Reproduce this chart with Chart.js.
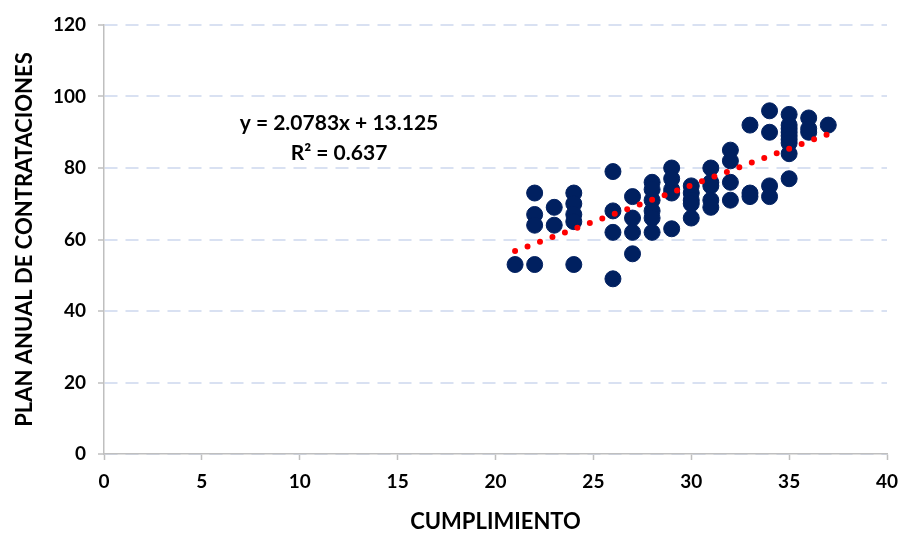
<!DOCTYPE html>
<html>
<head>
<meta charset="utf-8">
<script src="https://cdn.jsdelivr.net/npm/chart.js@4"></script>
<style>
  html, body { margin: 0; padding: 0; background: #fff; }
  #wrap { width: 904px; height: 535px; }
</style>
</head>
<body>
<div id="wrap"><canvas id="chart"></canvas></div>
<script>
// cumplimiento (x) and plan anual (y)
const cumplimiento = [21, 22, 22, 22, 22, 23, 23, 24, 24, 24, 24, 24,
   26, 26, 26, 26, 27, 27, 27, 27, 28, 28, 28, 28, 28, 28,
   29, 29, 29, 29, 29, 30, 30, 30, 30, 30, 31, 31, 31, 31, 31,
   32, 32, 32, 32, 33, 33, 33, 34, 34, 34, 34,
   35, 35, 35, 35, 35, 35, 35, 35, 35, 36, 36, 36, 37];
const planAnual = [53, 73, 67, 64, 53, 69, 64, 73, 70, 67, 65, 53,
   79, 68, 62, 49, 72, 66, 62, 56, 76, 74, 71, 68, 66, 62,
   80, 77, 74, 73, 63, 75, 73, 71, 70, 66, 80, 76, 75, 71, 69,
   85, 82, 76, 71, 92, 73, 72, 96, 90, 75, 72,
   95, 92, 91, 90, 89, 88, 87, 84, 77, 94, 91, 90, 92];

// trend line ends (y = 2.0783x + 13.125)
const trendX = [21, 37];
const trendY = [56.77, 89.5];
const trendLabel = ["y = 2.0783x + 13.125", "R² = 0.637"];

const xTicks = [0, 5, 10, 15, 20, 25, 30, 35, 40];
const yTicks = [0, 20, 40, 60, 80, 100, 120];

const FONT = "Lato, 'Open Sans', sans-serif";

const points = cumplimiento.map((x, i) => ({ x: x, y: planAnual[i] }));
const trend = trendX.map((x, i) => ({ x: x, y: trendY[i] }));

const equationText = {
   id: "equationText",
   afterDatasetsDraw(chart) {
      const ctx = chart.ctx;
      ctx.save();
      ctx.font = "bold 21px " + FONT;
      ctx.fillStyle = "#000";
      ctx.textAlign = "center";
      ctx.textBaseline = "middle";
      ctx.fillText(trendLabel[0], 339, 123);
      ctx.fillText(trendLabel[1], 339, 153);
      ctx.restore();
   },
};

new Chart(document.getElementById("chart"), {
   type: "scatter",
   data: {
      datasets: [
         {
            type: "line",
            data: trend,
            borderColor: "#FF0000",
            borderWidth: 6,
            borderCapStyle: "round",
            borderDash: [0, 13.3],
            pointRadius: 0,
            fill: false,
         },
         {
            data: points,
            backgroundColor: "#002060",
            borderColor: "#002060",
            pointRadius: 8,
            pointHoverRadius: 8,
         },
      ],
   },
   plugins: [equationText],
   options: {
      responsive: true,
      maintainAspectRatio: false,
      animation: false,
      layout: { padding: { top: 25, right: 17, left: 0, bottom: 0 } },
      plugins: {
         legend: { display: false },
         tooltip: { enabled: false },
      },
      scales: {
         x: {
            type: "linear",
            min: 0,
            max: 40,
            afterBuildTicks: (scale) => {
               scale.ticks = xTicks.map((v) => ({ value: v }));
            },
            afterFit: (scale) => {
               scale.height = 81;
               scale.paddingRight = 0;
               scale.paddingLeft = 0;
            },
            grid: {
               drawOnChartArea: false,
               drawTicks: true,
               tickLength: 6,
               tickColor: "#BFBFBF",
               tickWidth: 1.5,
            },
            border: { color: "#BFBFBF", width: 1.5 },
            ticks: {
               padding: 10,
               color: "#000",
               font: { family: FONT, size: 19, weight: "bold" },
            },
            title: {
               display: true,
               text: "CUMPLIMIENTO",
               color: "#000",
               font: { family: FONT, size: 22, weight: "bold" },
               padding: { top: 8, bottom: 0 },
            },
         },
         y: {
            type: "linear",
            min: 0,
            max: 120,
            afterBuildTicks: (scale) => {
               scale.ticks = yTicks.map((v) => ({ value: v }));
            },
            afterFit: (scale) => {
               scale.width = 104;
            },
            grid: {
               color: "#D9E1F2",
               lineWidth: 2,
               tickLength: 6,
               tickColor: "#BFBFBF",
               tickWidth: 1.5,
            },
            border: { color: "#BFBFBF", width: 1.5, dash: [13, 8] },
            ticks: {
               padding: 12,
               color: "#000",
               font: { family: FONT, size: 19, weight: "bold" },
            },
            title: {
               display: true,
               text: "PLAN ANUAL DE CONTRATACIONES",
               color: "#000",
               font: { family: FONT, size: 22, weight: "bold" },
               padding: { top: 12, bottom: 0 },
            },
         },
      },
   },
});
</script>
</body>
</html>
